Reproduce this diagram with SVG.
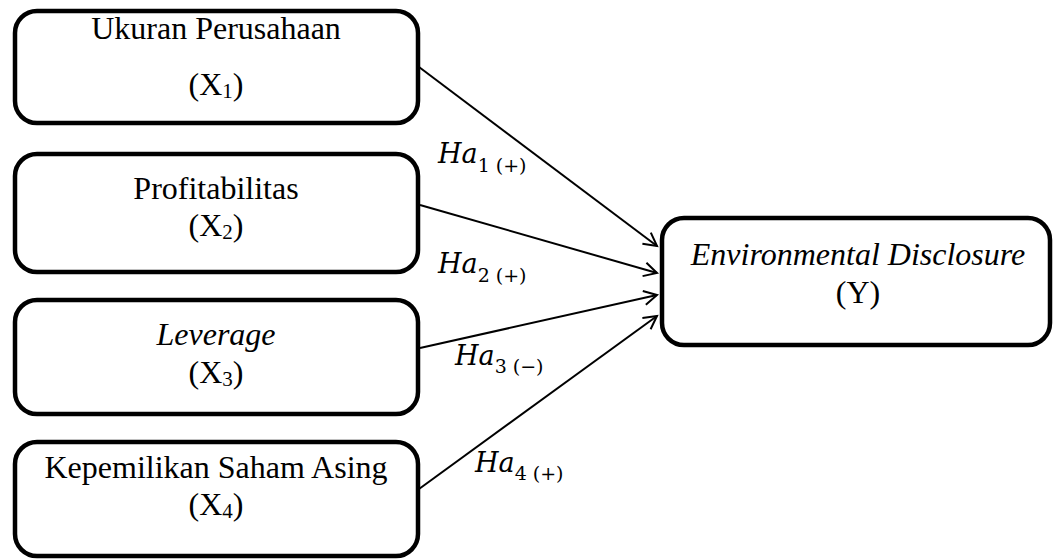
<svg xmlns="http://www.w3.org/2000/svg" width="1054" height="559" viewBox="0 0 1054 559">
<style>
.box{fill:#fff;stroke:#000;stroke-width:4.5}
.t{font-family:"Liberation Serif","Times New Roman",serif;font-size:32px;fill:#000;text-anchor:middle}
.it{font-style:italic}
.sub{font-size:21px}
.conn{stroke:#000;stroke-width:2;fill:none;marker-end:url(#arr)}
.m{font-family:"DejaVu Serif","Liberation Serif",serif;font-size:27px;font-style:italic;fill:#000}
.ms{font-family:"DejaVu Serif","Liberation Serif",serif;font-size:19px;font-style:normal}
</style>
<defs>
<marker id="arr" markerUnits="userSpaceOnUse" markerWidth="20" markerHeight="20" refX="15" refY="8" orient="auto">
<path d="M2,1 L15,8 L2,15" fill="none" stroke="#000" stroke-width="2"/>
</marker>
</defs>
<rect width="1054" height="559" fill="#fff"/>
<g id="connectors">
<line class="conn" x1="419" y1="67" x2="657" y2="246"/>
<line class="conn" x1="420" y1="205" x2="657" y2="273"/>
<line class="conn" x1="420" y1="348" x2="657" y2="295"/>
<line class="conn" x1="419" y1="489" x2="657" y2="316"/>
</g>
<g id="labels">
<text class="m" x="438" y="163">Ha<tspan class="ms" dy="9">1 (+)</tspan></text>
<text class="m" x="438" y="273">Ha<tspan class="ms" dy="9">2 (+)</tspan></text>
<text class="m" x="455" y="365">Ha<tspan class="ms" dy="8">3 (−)</tspan></text>
<text class="m" x="475" y="472">Ha<tspan class="ms" dy="8">4 (+)</tspan></text>
</g>
<g id="x1">
<rect class="box" x="15" y="11" width="403" height="112" rx="22"/>
<text class="t" x="216" y="39">Ukuran Perusahaan</text>
<text class="t" x="216" y="95">(X<tspan class="sub" dy="3">1</tspan><tspan dy="-3">)</tspan></text>
</g>
<g id="x2">
<rect class="box" x="15" y="154" width="403" height="118" rx="22"/>
<text class="t" x="216" y="199">Profitabilitas</text>
<text class="t" x="216" y="236">(X<tspan class="sub" dy="3">2</tspan><tspan dy="-3">)</tspan></text>
</g>
<g id="x3">
<rect class="box" x="15" y="300" width="403" height="114" rx="22"/>
<text class="t it" x="216" y="345">Leverage</text>
<text class="t" x="216" y="383">(X<tspan class="sub" dy="3">3</tspan><tspan dy="-3">)</tspan></text>
</g>
<g id="x4">
<rect class="box" x="15" y="442" width="403" height="114" rx="22"/>
<text class="t" x="216" y="478">Kepemilikan Saham Asing</text>
<text class="t" x="216" y="515">(X<tspan class="sub" dy="3">4</tspan><tspan dy="-3">)</tspan></text>
</g>
<g id="y">
<rect class="box" x="662" y="218" width="388" height="127" rx="22"/>
<text class="t it" x="858" y="265">Environmental Disclosure</text>
<text class="t" x="858" y="303">(Y)</text>
</g>
</svg>
